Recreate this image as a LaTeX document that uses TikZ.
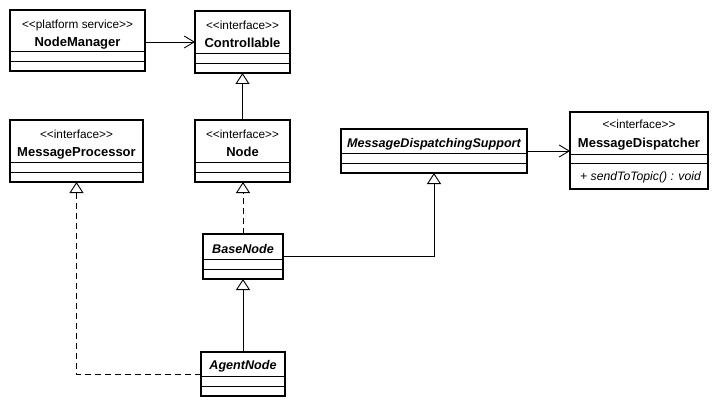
\documentclass[tikz,border=0pt]{standalone}
\usepackage{fontspec}
\setmainfont{Liberation Sans}
\usetikzlibrary{arrows.meta}
\begin{document}
\begin{tikzpicture}[x=1pt,y=-1pt,
  classbox/.style={draw,line width=2pt,inner sep=0pt,outer sep=0pt,anchor=north west},
  stereo/.style={font=\fontsize{11.8}{14}\selectfont,anchor=base,inner sep=0pt},
  cname/.style={font=\fontsize{13}{15}\selectfont\bfseries,anchor=base,inner sep=0pt},
  aname/.style={cname,font=\fontsize{12.6}{15}\selectfont\bfseries\itshape},
  method/.style={font=\fontsize{12.2}{14}\selectfont\itshape,anchor=base west,inner sep=0pt},
  assoc/.style={line width=0.9pt,-{Straight Barb[length=10pt,width=12pt]}},
  inherit/.style={line width=0.9pt,-{Triangle[open,fill=white,length=11pt,width=14pt]}},
  realize/.style={inherit,dash pattern=on 6pt off 4pt}]
  \useasboundingbox (0,0) rectangle (722,406);
  % classes
  \node[classbox,minimum width=135pt,minimum height=61pt] (nm)  at (10,10)   {};
  \node[classbox,minimum width=95pt, minimum height=62pt] (ctl) at (195,11)  {};
  \node[classbox,minimum width=133pt,minimum height=62pt] (mp)  at (10,120)  {};
  \node[classbox,minimum width=95pt, minimum height=62pt] (nd)  at (195,120) {};
  \node[classbox,minimum width=186pt,minimum height=44pt] (mds) at (341,129) {};
  \node[classbox,minimum width=138pt,minimum height=77pt] (md)  at (570,112) {};
  \node[classbox,minimum width=80pt, minimum height=45pt] (bn)  at (203,234) {};
  \node[classbox,minimum width=84pt, minimum height=44pt] (an)  at (201,352) {};
  % compartments
  \foreach \n in {nm,ctl,mp,nd,mds,bn,an} {
    \draw[line width=0.9pt] ([yshift=19.5pt]\n.south west) -- ([yshift=19.5pt]\n.south east);
    \draw[line width=0.9pt] ([yshift=10pt]\n.south west) -- ([yshift=10pt]\n.south east);
  }
  \draw[line width=0.9pt] ([yshift=35pt]md.south west) -- ([yshift=35pt]md.south east);
  \draw[line width=0.9pt] ([yshift=26pt]md.south west) -- ([yshift=26pt]md.south east);
  % names
  \node[stereo] (nm-s)  at ([yshift=-19pt]nm.north)  {<{}<platform service>{}>};
  \node[cname]  (nm-n)  at ([yshift=-36.5pt]nm.north) {NodeManager};
  \node[stereo] (ctl-s) at ([yshift=-19pt]ctl.north) {<{}<interface>{}>};
  \node[cname]  (ctl-n) at ([yshift=-36.5pt]ctl.north) {Controllable};
  \node[stereo] (mp-s)  at ([yshift=-19pt]mp.north)  {<{}<interface>{}>};
  \node[cname]  (mp-n)  at ([yshift=-36.5pt]mp.north) {MessageProcessor};
  \node[stereo] (nd-s)  at ([yshift=-19pt]nd.north)  {<{}<interface>{}>};
  \node[cname]  (nd-n)  at ([yshift=-36.5pt]nd.north) {Node};
  \node[stereo] (md-s)  at ([yshift=-17pt]md.north)  {<{}<interface>{}>};
  \node[cname]  (md-n)  at ([yshift=-35.5pt]md.north) {MessageDispatcher};
  \node[method] (md-m)  at ([xshift=10pt,yshift=8pt]md.south west) {+ sendToTopic() : void};
  \node[aname]  (mds-n) at ([yshift=-18.5pt]mds.north) {MessageDispatchingSupport};
  \node[aname]  (bn-n)  at ([yshift=-19pt]bn.north)  {BaseNode};
  \node[aname]  (an-n)  at ([yshift=-17.5pt]an.north) {AgentNode};
  % relations
  \draw[assoc]   (nm.east |- ctl.west) -- (ctl.west);
  \draw[assoc]   (mds.east) -- (md.west |- mds.east);
  \draw[inherit] (nd.north) -- (ctl.south);
  \draw[realize] (bn.north) -- (bn.north |- nd.south);
  \draw[inherit] (an.north) -- (bn.south);
  \draw[realize] (an.west) -| (mp.south);
  \draw[inherit] (bn.east) -| (mds.south);
\end{tikzpicture}
\end{document}
